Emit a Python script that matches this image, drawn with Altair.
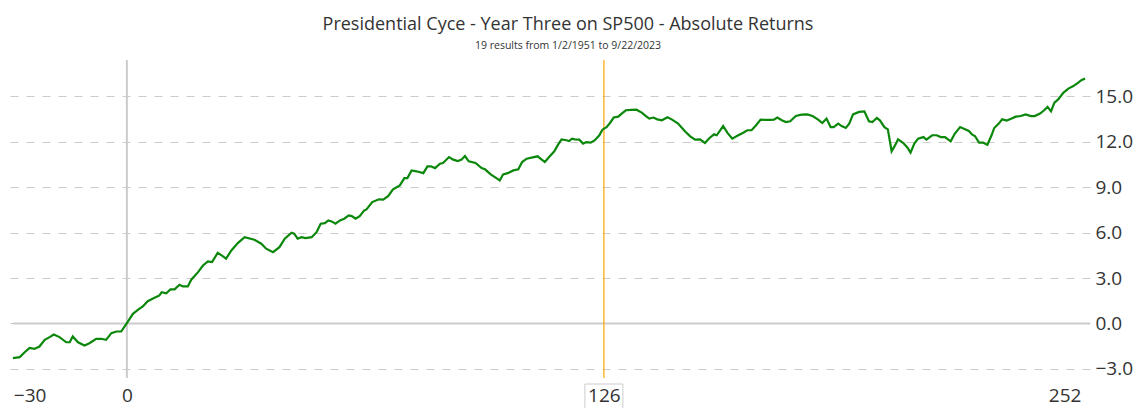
import altair as alt
import pandas as pd

# Trading days relative to the start of year three, and average absolute return (%)
days = [
    -30.1, -28.3, -27.0, -25.7, -24.4, -23.1, -21.7, -20.4, -19.3, -17.8, -16.0, -15.1,
    -14.3, -12.9, -11.2, -9.9, -8.1, -6.8, -5.5, -4.1, -2.8, -1.5, 0.0, 1.6, 2.9, 4.2,
    5.5, 7.3, 8.6, 9.2, 10.4, 11.5, 12.6, 13.9, 14.8, 16.1, 17.0, 18.8, 20.1, 21.4,
    22.5, 24.0, 25.4, 26.2, 27.6, 29.3, 31.1, 33.7, 35.5, 36.8, 38.6, 40.3,
    41.7, 43.5, 44.2, 45.1, 46.1, 47.2, 48.8, 50.1, 51.2, 52.3, 53.2, 54.1, 55.1, 56.3,
    57.4, 58.6, 59.4, 60.4, 61.5, 62.7, 63.3, 64.8, 66.6, 67.7, 69.0, 70.3, 72.1, 73.3,
    74.1, 75.2, 76.5, 78.3, 79.4, 80.3, 81.4, 82.7, 83.5, 85.1, 86.2, 87.4, 88.4, 89.3,
    90.3, 92.1, 93.7, 94.6, 96.1, 97.6, 98.5, 99.4, 100.6, 102.1, 103.4, 104.4, 105.6,
    106.9, 108.5, 109.5, 110.4, 111.7, 112.9, 113.9, 114.8, 116.1, 116.8, 117.6, 118.3,
    119.5, 120.5, 121.4, 122.5, 123.6, 124.8, 125.6, 126.7, 127.6, 128.6, 129.8, 130.7,
    131.8, 133.3, 134.6, 136.0, 137.1, 138.0, 139.1, 140.1, 141.3, 142.8, 143.9, 145.6,
    147.4, 148.8, 150.1, 151.4, 152.7, 153.9, 155.1, 155.8, 157.5, 158.6, 159.9, 161.5,
    162.8, 163.9, 165.0, 166.2, 167.4, 168.6, 169.9, 170.9, 171.8, 173.0, 174.1, 175.2,
    176.7, 178.2, 179.7, 181.1, 182.6, 183.7, 184.8, 185.9, 186.7, 187.9, 188.8, 189.9,
    190.8, 191.8,
    193.4, 194.8, 196.0, 196.9, 198.1, 198.9, 200.1, 201.0, 202.0, 202.9, 203.7, 205.1,
    206.2, 207.0, 208.0, 209.0, 210.4, 211.2, 212.7, 213.9, 215.0, 216.1, 217.6, 218.7,
    220.1, 221.4, 222.4, 223.3, 224.0, 225.1, 226.2, 227.3, 228.4, 229.1, 230.3, 231.2,
    232.4, 233.7, 234.8, 236.1, 237.4, 238.8, 239.8, 241.2, 242.3, 243.2, 244.1, 245.0,
    246.0, 247.4, 248.7, 250.0, 251.3, 252.2, 253.1,
]
returns = [
    -2.29, -2.22, -1.90, -1.61, -1.68, -1.52, -1.08, -0.90, -0.73, -0.90, -1.24, -1.24,
    -0.86, -1.24, -1.45, -1.30, -1.01, -1.01, -1.08, -0.64, -0.53, -0.53, 0.02, 0.64, 0.90, 1.12,
    1.47, 1.70, 1.85, 2.07, 2.00, 2.25, 2.25, 2.56, 2.45, 2.45, 2.89, 3.39, 3.83, 4.10,
    4.05, 4.67, 4.43, 4.28, 4.82, 5.31, 5.70, 5.53, 5.27, 4.94, 4.71, 5.04,
    5.60, 5.99, 5.93, 5.60, 5.70, 5.64, 5.70, 6.03, 6.59, 6.63, 6.81, 6.74, 6.59, 6.81,
    6.92, 7.14, 7.09, 6.92, 7.09, 7.47, 7.53, 8.02, 8.20, 8.18, 8.41, 8.86, 9.12, 9.60,
    9.60, 10.11, 10.05, 9.93, 10.38, 10.38, 10.26, 10.55, 10.60, 10.99, 10.82, 10.73, 10.82, 11.06,
    10.71, 10.60, 10.26, 10.18, 9.85, 9.60, 9.45, 9.85, 9.93, 10.11, 10.18, 10.66, 10.88,
    10.95, 11.04, 10.84, 10.66, 11.04, 11.37, 11.81, 12.16, 12.10, 12.05, 12.21, 12.16,
    12.14, 11.88, 11.98, 11.94, 12.10, 12.43, 12.80, 12.97, 13.24, 13.60, 13.66, 13.86,
    14.08, 14.10, 14.12, 13.93, 13.70, 13.53, 13.60, 13.48, 13.42, 13.62, 13.48, 13.20,
    12.69, 12.36, 12.14, 12.16, 11.92, 12.25, 12.49, 12.43, 13.04, 12.60, 12.21, 12.43,
    12.60, 12.76, 12.76, 13.09, 13.46, 13.44, 13.44, 13.46, 13.60, 13.42, 13.30, 13.35,
    13.70, 13.79, 13.81, 13.70, 13.46, 13.24, 13.53, 12.97, 12.97, 13.20, 13.04, 12.91,
    13.20, 13.81,
    13.97, 14.01, 13.35, 13.30, 13.57, 13.42, 12.97, 12.82, 11.37, 11.76, 12.16, 11.92,
    11.61, 11.28, 11.88, 12.21, 12.31, 12.14, 12.43, 12.43, 12.31, 12.31, 12.03, 12.54,
    12.97, 12.82, 12.71, 12.47, 12.38, 11.94, 11.94, 11.81, 12.43, 12.91, 13.20, 13.48,
    13.40, 13.53, 13.66, 13.70, 13.81, 13.70, 13.70, 13.86, 14.08, 14.30, 14.01, 14.59,
    14.80, 15.25, 15.51, 15.68, 15.91, 16.08, 16.17,
]

x_ticks = [-30, 0, 126, 252]
y_ticks = [-3, 0, 3, 6, 9, 12, 15]
start_day = [0]
marker_day = [126]

FONT = "Open Sans"
TEXT = "#333333"

df = pd.DataFrame({"day": days, "ret": returns})

xscale = alt.Scale(domain=[-31.4, 254.4], nice=False, zero=False)
yscale = alt.Scale(domain=[-3.6, 17.4], nice=False, zero=False)

x_axis = alt.Axis(
    values=x_ticks, labelFlush=12, grid=False, domain=False, ticks=False,
    labelFontSize=19, labelPadding=8, labelFont=FONT, labelColor=TEXT, title=None,
)
y_axis = alt.Axis(
    orient="right", values=y_ticks, format=".1f", grid=True, gridDash=[8, 8],
    gridColor="#cccccc", gridWidth=1, domain=False, ticks=False, labelPadding=5,
    labelFontSize=19, labelFont=FONT, labelColor=TEXT, title=None,
)

line = alt.Chart(df).mark_line(color="#0b870b", strokeWidth=2.2).encode(
    x=alt.X("day:Q", scale=xscale, axis=x_axis),
    y=alt.Y("ret:Q", scale=yscale, axis=y_axis),
)

zero_df = pd.DataFrame({"y": [0], "x0": [x_ticks[0]], "x1": [254.4]})
zero = alt.Chart(zero_df).mark_rule(color="#cccccc", strokeWidth=2).encode(
    y=alt.Y("y:Q", scale=yscale), x=alt.X("x0:Q", scale=xscale), x2="x1:Q"
)

vzero = alt.Chart(pd.DataFrame({"day": start_day})).mark_rule(
    color="#cccccc", strokeWidth=2
).encode(x=alt.X("day:Q", scale=xscale))

vmark = alt.Chart(pd.DataFrame({"day": marker_day})).mark_rule(
    color="#FFA500", strokeWidth=1.2
).encode(x=alt.X("day:Q", scale=xscale))

box = alt.Chart(pd.DataFrame({"day": marker_day})).mark_rect(
    fillOpacity=0, stroke="#cccccc", strokeWidth=1, xOffset=-19, x2Offset=19
).encode(
    x=alt.X("day:Q", scale=xscale), x2="day:Q",
    y=alt.value(324), y2=alt.value(352),
)

chart = alt.layer(zero, vzero, vmark, box, line).properties(
    width=1082,
    height=318,
    autosize=alt.AutoSizeParams(type="none"),
    padding={"left": 0, "top": 52, "right": 43, "bottom": 30},
    title=alt.Title(
        "Presidential Cyce - Year Three on SP500 - Absolute Returns",
        subtitle="19 results from 1/2/1951 to 9/22/2023",
        font=FONT, fontSize=18, fontWeight="normal", color=TEXT,
        subtitleFont=FONT, subtitleFontSize=10.5, subtitleColor=TEXT,
        anchor="middle", dx=19, offset=8, subtitlePadding=7,
    ),
).configure_view(stroke=None)

chart.save("out.html", embed_options={"renderer": "svg", "actions": False})
